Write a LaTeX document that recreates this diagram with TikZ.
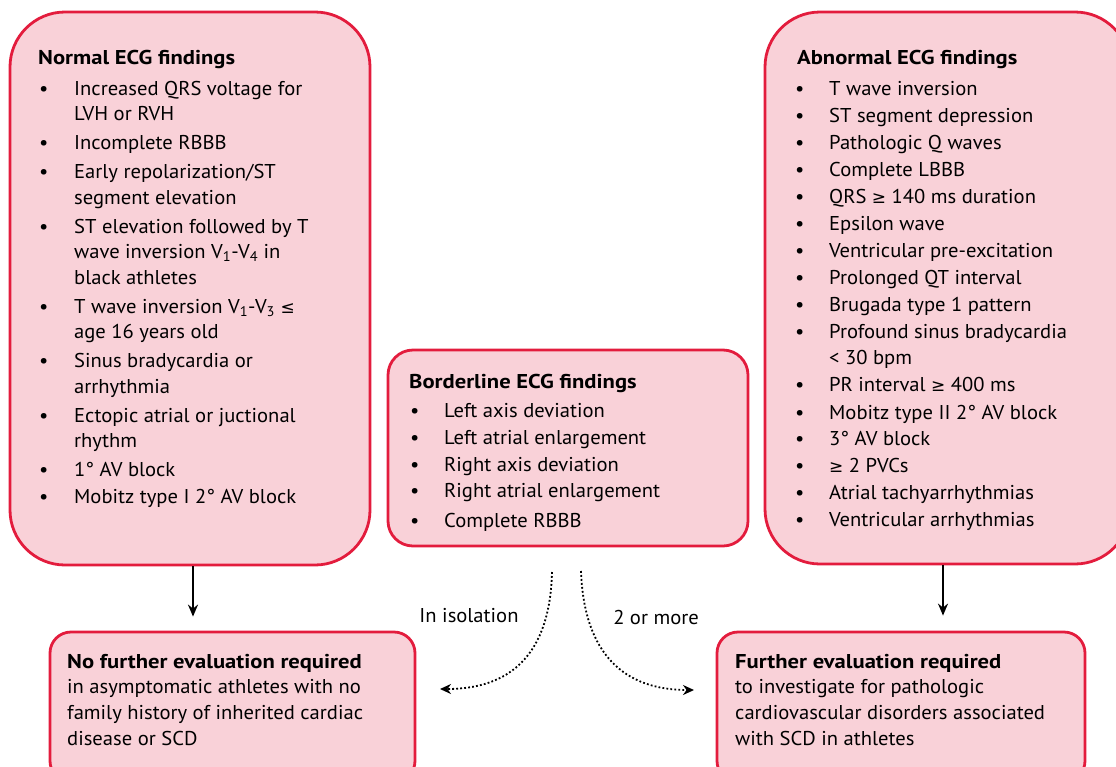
\documentclass[tikz,border=0pt]{standalone}
\usepackage{fontspec}
\setmainfont{PT Sans}[FakeStretch=1.03, BoldFeatures={FakeStretch=1.13}]
\newfontfamily\symf{DejaVu Sans}
\usetikzlibrary{arrows.meta,calc}
\definecolor{boxfill}{HTML}{F9D1D8}
\definecolor{boxline}{HTML}{E31C3D}
\newcommand\bul{\hspace*{1pt}\textbullet}
\newcommand\mygeq{{\symf\fontsize{17}{17}\selectfont ≥}}
\newcommand\myleq{{\symf\fontsize{17}{17}\selectfont ≤}}
\tikzset{
  box/.style={draw=boxline, fill=boxfill, line width=2.8pt, rounded corners=#1, inner sep=0pt, rectangle},
  txt/.style={inner sep=0pt, anchor=base west, font=\fontsize{20}{26}\selectfont},
  lbl/.style={inner sep=0pt, anchor=base, font=\fontsize{20}{26}\selectfont},
  arr/.style={line width=2pt, -{Stealth[length=12pt,width=10pt]}},
  dotarr/.style={line width=1.8pt, dash pattern=on 1.8pt off 2.2pt, -{Stealth[length=11pt,width=10pt]}},
}
\begin{document}
\begin{tikzpicture}[x=1pt,y=-1pt]
\useasboundingbox (0,0) rectangle (1116,766);
% boxes
\node[box=55pt, minimum width=360pt, minimum height=553pt] (normal) at (190,288.5) {};
\node[box=55pt, minimum width=365pt, minimum height=552pt] (abnormal) at (947.5,288) {};
\node[box=25pt, minimum width=360pt, minimum height=196pt] (border) at (568,448) {};
\node[box=21pt, minimum width=365pt, minimum height=150pt] (nofurther) at (232.5,707) {};
\node[box=21pt, minimum width=368pt, minimum height=150pt] (further) at (901,707) {};
% texts
\node[txt] (normalT) at (38,64) {\fontsize{20}{25.5}\selectfont\begin{tabular}[t]{@{}p{36pt}@{}l@{}}
\multicolumn{2}{@{}l@{}}{\textbf{Normal ECG findings}}\\[5.5pt]
\bul & Increased QRS voltage for\\
     & LVH or RVH\\[3.5pt]
\bul & Incomplete RBBB\\[3.5pt]
\bul & Early repolarization/ST\\
     & segment elevation\\[3.5pt]
\bul & ST elevation followed by T\\
     & wave inversion V\textsubscript{1}-V\textsubscript{4} in\\
     & black athletes\\[3.5pt]
\bul & T wave inversion V\textsubscript{1}-V\textsubscript{3} \myleq\\
     & age 16 years old\\[3.5pt]
\bul & Sinus bradycardia or\\
     & arrhythmia\\[3.5pt]
\bul & Ectopic atrial or juctional\\
     & rhythm\\[3.5pt]
\bul & 1° AV block\\[1.5pt]
\bul & Mobitz type I 2° AV block
\end{tabular}};
\node[txt] (abnormalT) at (794,64) {\fontsize{20}{26}\selectfont\begin{tabular}[t]{@{}p{35pt}@{}l@{}}
\multicolumn{2}{@{}l@{}}{\hspace*{3pt}\textbf{Abnormal ECG findings}}\\[5pt]
\bul & T wave inversion\\[1pt]
\bul & ST segment depression\\[1pt]
\bul & Pathologic Q waves\\[1pt]
\bul & Complete LBBB\\[1pt]
\bul & QRS \mygeq\ 140 ms duration\\[1pt]
\bul & Epsilon wave\\[1pt]
\bul & Ventricular pre-excitation\\[1pt]
\bul & Prolonged QT interval\\[1pt]
\bul & Brugada type 1 pattern\\[1pt]
\bul & Profound sinus bradycardia\\
     & < 30 bpm\\[1pt]
\bul & PR interval \mygeq\ 400 ms\\[2pt]
\bul & Mobitz type II 2° AV block\\[0pt]
\bul & 3° AV block\\[1pt]
\bul & \mygeq\ 2 PVCs\\[1pt]
\bul & Atrial tachyarrhythmias\\[1pt]
\bul & Ventricular arrhythmias
\end{tabular}};
\node[txt] (borderT) at (409,388) {\fontsize{20}{26}\selectfont\begin{tabular}[t]{@{}p{35pt}@{}l@{}}
\multicolumn{2}{@{}l@{}}{\textbf{Borderline ECG findings}}\\[3pt]
\bul & Left axis deviation\\[1pt]
\bul & Left atrial enlargement\\[1pt]
\bul & Right axis deviation\\[0pt]
\bul & Right atrial enlargement\\[4pt]
\bul & Complete RBBB
\end{tabular}};
\node[txt] (nofurtherT) at (67,668) {\fontsize{20}{26}\selectfont\begin{tabular}[t]{@{}l@{}}
\textbf{No further evaluation required}\\[-1pt]
in asymptomatic athletes with no\\
family history of inherited cardiac\\
disease or SCD
\end{tabular}};
\node[txt] (furtherT) at (735,668) {\fontsize{20}{26}\selectfont\begin{tabular}[t]{@{}l@{}}
\textbf{Further evaluation required}\\[-1pt]
to investigate for pathologic\\
cardiovascular disorders associated\\
with SCD in athletes
\end{tabular}};
% labels
\node[lbl] (iso) at (469,622) {In isolation};
\node[lbl] (two) at (656,624) {2 or more};
% straight arrows
\coordinate (xl) at (193,0);
\coordinate (xr) at (943,0);
\draw[arr, shorten >=14pt] (normal.south -| xl) -- (nofurther.north -| xl);
\draw[arr, line width=1.6pt, shorten >=15pt] (abnormal.south -| xr) -- (further.north -| xr);
% dotted arrows
\coordinate (d1) at (552,572);
\coordinate (d2) at (581,571);
\coordinate (e1) at (440,689);
\coordinate (e2) at (694,690);
\draw[dotarr] (d1) .. controls (550,655) and (510,689) .. (e1);
\draw[dotarr] (d2) .. controls (584,655) and (625,690) .. (e2);
\end{tikzpicture}
\end{document}
